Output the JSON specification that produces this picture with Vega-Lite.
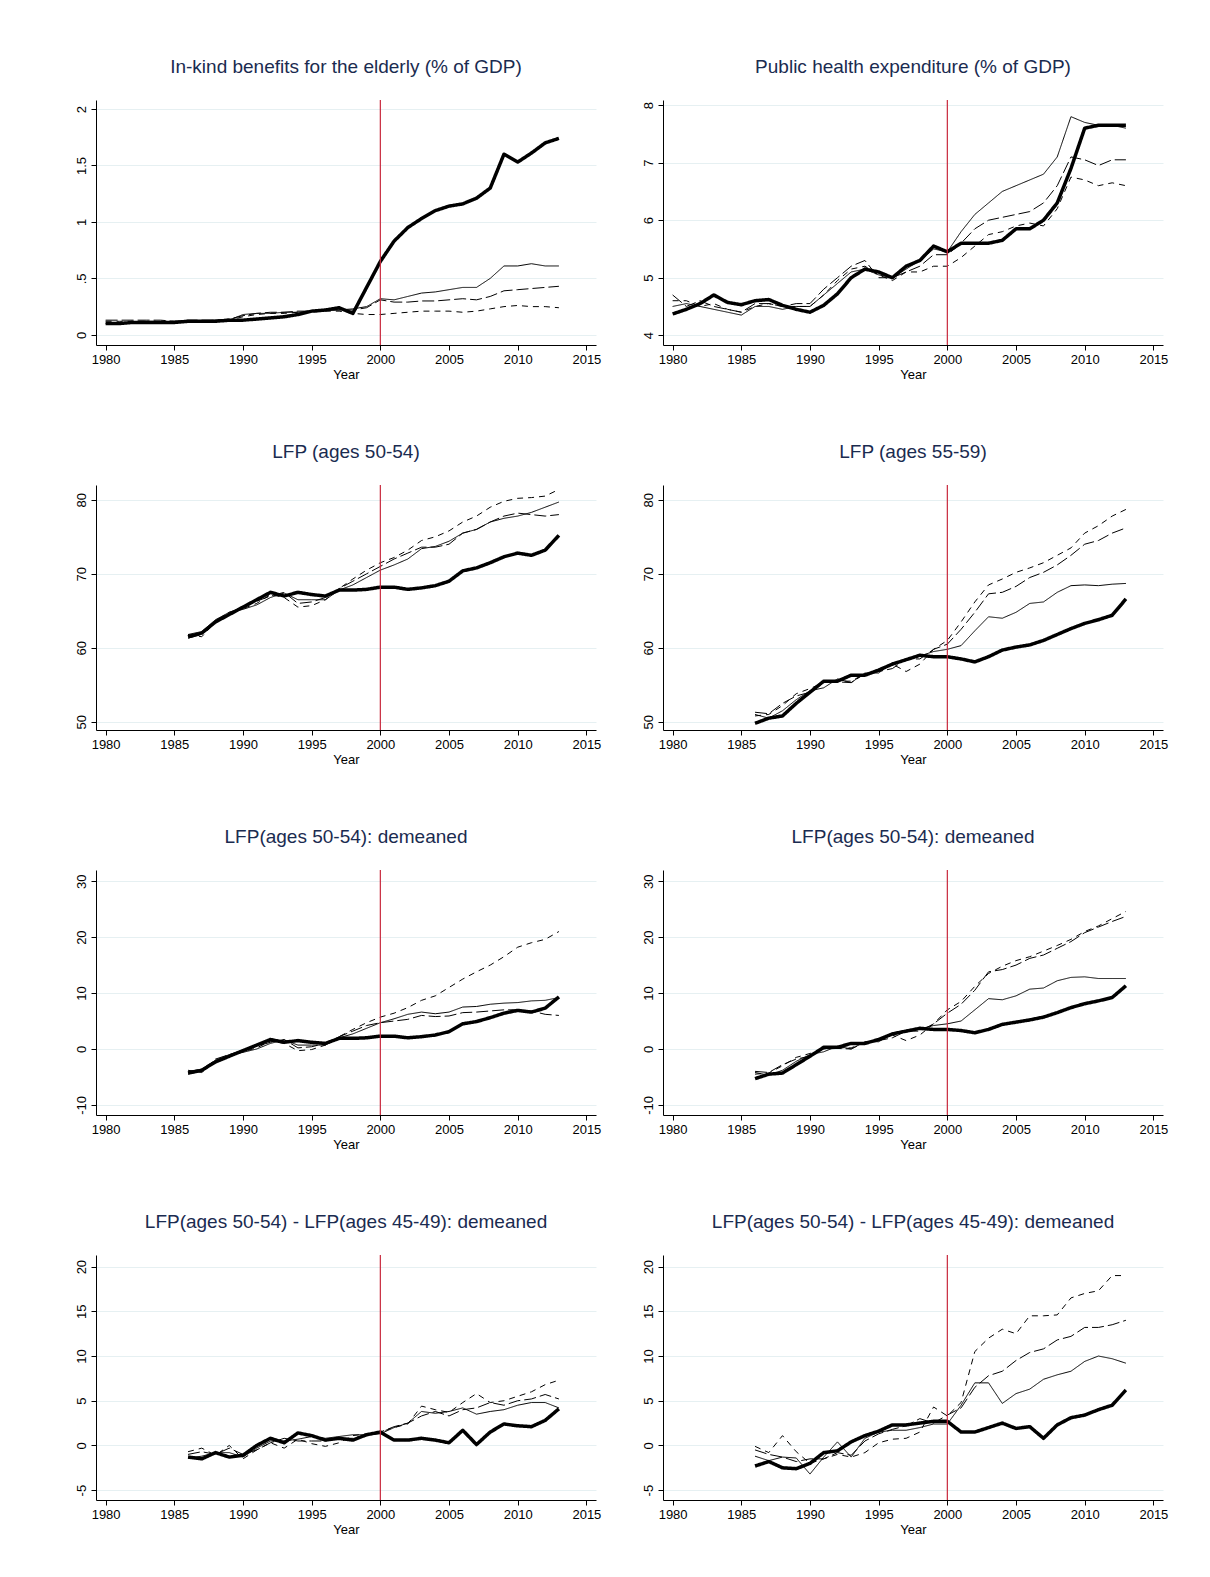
{
"$schema":"https://vega.github.io/schema/vega-lite/v6.json",
"padding":{"left":74,"top":58,"right":10,"bottom":10},
"background":"white",
"config":{"font":"Liberation Sans","view":{"stroke":null},
"title":{"fontSize":19,"fontWeight":"normal","color":"#1a2b50","offset":22},
"axis":{"labelFont":"Liberation Sans","titleFont":"Liberation Sans","labelFontSize":13,"titleFontSize":13,"titleFontWeight":"normal","labelColor":"#000","titleColor":"#000","domainColor":"#000","tickColor":"#000","gridColor":"#e6f0f2","tickSize":5,"labelPadding":3}},
"spacing":{"column":40,"row":62},
"datasets":{"r":[{"x":2000}],
"d":[
{"p":1,"year":1980,"A":0.10,"B":0.10,"C":0.13,"D":0.12},
{"p":1,"year":1981,"A":0.10,"B":0.10,"C":0.13,"D":0.12},
{"p":1,"year":1982,"A":0.11,"B":0.11,"C":0.13,"D":0.12},
{"p":1,"year":1983,"A":0.11,"B":0.11,"C":0.13,"D":0.12},
{"p":1,"year":1984,"A":0.11,"B":0.11,"C":0.13,"D":0.12},
{"p":1,"year":1985,"A":0.11,"B":0.11,"C":0.12,"D":0.12},
{"p":1,"year":1986,"A":0.12,"B":0.12,"C":0.13,"D":0.12},
{"p":1,"year":1987,"A":0.12,"B":0.12,"C":0.13,"D":0.12},
{"p":1,"year":1988,"A":0.12,"B":0.13,"C":0.13,"D":0.13},
{"p":1,"year":1989,"A":0.13,"B":0.13,"C":0.14,"D":0.13},
{"p":1,"year":1990,"A":0.13,"B":0.18,"C":0.17,"D":0.16},
{"p":1,"year":1991,"A":0.14,"B":0.19,"C":0.19,"D":0.18},
{"p":1,"year":1992,"A":0.15,"B":0.19,"C":0.20,"D":0.19},
{"p":1,"year":1993,"A":0.16,"B":0.20,"C":0.20,"D":0.19},
{"p":1,"year":1994,"A":0.18,"B":0.20,"C":0.21,"D":0.20},
{"p":1,"year":1995,"A":0.21,"B":0.21,"C":0.21,"D":0.20},
{"p":1,"year":1996,"A":0.22,"B":0.22,"C":0.22,"D":0.21},
{"p":1,"year":1997,"A":0.24,"B":0.22,"C":0.22,"D":0.21},
{"p":1,"year":1998,"A":0.19,"B":0.23,"C":0.22,"D":0.19},
{"p":1,"year":1999,"A":0.42,"B":0.25,"C":0.24,"D":0.18},
{"p":1,"year":2000,"A":0.65,"B":0.32,"C":0.31,"D":0.18},
{"p":1,"year":2001,"A":0.83,"B":0.31,"C":0.29,"D":0.19},
{"p":1,"year":2002,"A":0.95,"B":0.34,"C":0.29,"D":0.20},
{"p":1,"year":2003,"A":1.03,"B":0.37,"C":0.30,"D":0.21},
{"p":1,"year":2004,"A":1.10,"B":0.38,"C":0.30,"D":0.21},
{"p":1,"year":2005,"A":1.14,"B":0.40,"C":0.31,"D":0.21},
{"p":1,"year":2006,"A":1.16,"B":0.42,"C":0.32,"D":0.20},
{"p":1,"year":2007,"A":1.21,"B":0.42,"C":0.31,"D":0.21},
{"p":1,"year":2008,"A":1.30,"B":0.50,"C":0.34,"D":0.23},
{"p":1,"year":2009,"A":1.60,"B":0.61,"C":0.39,"D":0.25},
{"p":1,"year":2010,"A":1.53,"B":0.61,"C":0.40,"D":0.26},
{"p":1,"year":2011,"A":1.61,"B":0.63,"C":0.41,"D":0.25},
{"p":1,"year":2012,"A":1.70,"B":0.61,"C":0.42,"D":0.25},
{"p":1,"year":2013,"A":1.74,"B":0.61,"C":0.43,"D":0.24},
{"p":2,"year":1980,"A":4.37,"B":4.5,"C":4.7,"D":4.6},
{"p":2,"year":1981,"A":4.45,"B":4.55,"C":4.5,"D":4.6},
{"p":2,"year":1982,"A":4.55,"B":4.5,"C":4.6,"D":4.5},
{"p":2,"year":1983,"A":4.7,"B":4.45,"C":4.5,"D":4.55},
{"p":2,"year":1984,"A":4.57,"B":4.4,"C":4.45,"D":4.45},
{"p":2,"year":1985,"A":4.53,"B":4.35,"C":4.4,"D":4.4},
{"p":2,"year":1986,"A":4.6,"B":4.5,"C":4.55,"D":4.5},
{"p":2,"year":1987,"A":4.62,"B":4.5,"C":4.55,"D":4.55},
{"p":2,"year":1988,"A":4.52,"B":4.45,"C":4.5,"D":4.5},
{"p":2,"year":1989,"A":4.45,"B":4.5,"C":4.55,"D":4.5},
{"p":2,"year":1990,"A":4.4,"B":4.5,"C":4.55,"D":4.5},
{"p":2,"year":1991,"A":4.52,"B":4.7,"C":4.8,"D":4.7},
{"p":2,"year":1992,"A":4.72,"B":4.9,"C":5.0,"D":4.95},
{"p":2,"year":1993,"A":5.0,"B":5.1,"C":5.2,"D":5.15},
{"p":2,"year":1994,"A":5.15,"B":5.15,"C":5.3,"D":5.2},
{"p":2,"year":1995,"A":5.1,"B":5.05,"C":5.0,"D":5.05},
{"p":2,"year":1996,"A":5.0,"B":5.0,"C":5.0,"D":4.95},
{"p":2,"year":1997,"A":5.2,"B":5.15,"C":5.1,"D":5.1},
{"p":2,"year":1998,"A":5.3,"B":5.3,"C":5.2,"D":5.1},
{"p":2,"year":1999,"A":5.55,"B":5.5,"C":5.4,"D":5.2},
{"p":2,"year":2000,"A":5.45,"B":5.45,"C":5.4,"D":5.2},
{"p":2,"year":2001,"A":5.6,"B":5.8,"C":5.6,"D":5.35},
{"p":2,"year":2002,"A":5.6,"B":6.1,"C":5.85,"D":5.55},
{"p":2,"year":2003,"A":5.6,"B":6.3,"C":6.0,"D":5.75},
{"p":2,"year":2004,"A":5.65,"B":6.5,"C":6.05,"D":5.8},
{"p":2,"year":2005,"A":5.85,"B":6.6,"C":6.1,"D":5.9},
{"p":2,"year":2006,"A":5.85,"B":6.7,"C":6.15,"D":5.95},
{"p":2,"year":2007,"A":6.0,"B":6.8,"C":6.3,"D":5.9},
{"p":2,"year":2008,"A":6.3,"B":7.1,"C":6.6,"D":6.2},
{"p":2,"year":2009,"A":6.9,"B":7.8,"C":7.1,"D":6.75},
{"p":2,"year":2010,"A":7.6,"B":7.7,"C":7.05,"D":6.7},
{"p":2,"year":2011,"A":7.65,"B":7.65,"C":6.95,"D":6.6},
{"p":2,"year":2012,"A":7.65,"B":7.65,"C":7.05,"D":6.65},
{"p":2,"year":2013,"A":7.65,"B":7.6,"C":7.05,"D":6.6},
{"p":3,"year":1986,"A":61.5,"B":61.8,"C":61.3,"D":61.8},
{"p":3,"year":1987,"A":62,"B":62.2,"C":61.8,"D":61.5},
{"p":3,"year":1988,"A":63.5,"B":63.8,"C":63.7,"D":63.5},
{"p":3,"year":1989,"A":64.5,"B":64.8,"C":64.8,"D":64.5},
{"p":3,"year":1990,"A":65.5,"B":65.2,"C":65.5,"D":65.3},
{"p":3,"year":1991,"A":66.5,"B":65.8,"C":66.3,"D":66},
{"p":3,"year":1992,"A":67.5,"B":66.8,"C":67,"D":67.2},
{"p":3,"year":1993,"A":67,"B":67.4,"C":67.5,"D":66.8},
{"p":3,"year":1994,"A":67.5,"B":66.5,"C":66,"D":65.5},
{"p":3,"year":1995,"A":67.2,"B":66.5,"C":66.2,"D":65.7},
{"p":3,"year":1996,"A":67,"B":66.5,"C":66.8,"D":66.5},
{"p":3,"year":1997,"A":67.8,"B":67.8,"C":68,"D":68},
{"p":3,"year":1998,"A":67.8,"B":68.5,"C":69,"D":69.3},
{"p":3,"year":1999,"A":67.9,"B":69.5,"C":70,"D":70.5},
{"p":3,"year":2000,"A":68.2,"B":70.5,"C":71,"D":71.5},
{"p":3,"year":2001,"A":68.2,"B":71.2,"C":72,"D":72.2},
{"p":3,"year":2002,"A":67.9,"B":72,"C":72.8,"D":73.2},
{"p":3,"year":2003,"A":68.1,"B":73.4,"C":73.6,"D":74.5},
{"p":3,"year":2004,"A":68.4,"B":73.7,"C":73.6,"D":75},
{"p":3,"year":2005,"A":69,"B":74.4,"C":74,"D":75.8},
{"p":3,"year":2006,"A":70.4,"B":75.5,"C":75.5,"D":77},
{"p":3,"year":2007,"A":70.8,"B":76,"C":76,"D":77.8},
{"p":3,"year":2008,"A":71.5,"B":77,"C":77,"D":79},
{"p":3,"year":2009,"A":72.3,"B":77.5,"C":77.8,"D":79.8},
{"p":3,"year":2010,"A":72.8,"B":77.8,"C":78.2,"D":80.2},
{"p":3,"year":2011,"A":72.5,"B":78.3,"C":78,"D":80.3},
{"p":3,"year":2012,"A":73.2,"B":79,"C":77.8,"D":80.5},
{"p":3,"year":2013,"A":75.2,"B":79.7,"C":78,"D":81.4},
{"p":4,"year":1986,"A":49.8,"B":51,"C":51.3,"D":50.8},
{"p":4,"year":1987,"A":50.5,"B":50.5,"C":51.1,"D":51},
{"p":4,"year":1988,"A":50.8,"B":51.5,"C":52.5,"D":52.2},
{"p":4,"year":1989,"A":52.5,"B":53,"C":53.5,"D":53.8},
{"p":4,"year":1990,"A":54,"B":54.2,"C":54,"D":54.5},
{"p":4,"year":1991,"A":55.5,"B":54.6,"C":55.3,"D":55.3},
{"p":4,"year":1992,"A":55.5,"B":55.8,"C":55.4,"D":55.5},
{"p":4,"year":1993,"A":56.3,"B":55.3,"C":55.3,"D":55.5},
{"p":4,"year":1994,"A":56.3,"B":56.6,"C":56.5,"D":56.5},
{"p":4,"year":1995,"A":57,"B":56.6,"C":56.8,"D":56.8},
{"p":4,"year":1996,"A":57.8,"B":58,"C":57.2,"D":57.8},
{"p":4,"year":1997,"A":58.4,"B":58.3,"C":58.5,"D":56.8},
{"p":4,"year":1998,"A":59,"B":58.9,"C":58.5,"D":57.8},
{"p":4,"year":1999,"A":58.8,"B":59.5,"C":59.8,"D":59.8},
{"p":4,"year":2000,"A":58.8,"B":59.8,"C":60.5,"D":61},
{"p":4,"year":2001,"A":58.5,"B":60.3,"C":62.5,"D":63.5},
{"p":4,"year":2002,"A":58.1,"B":62.3,"C":64.8,"D":66.2},
{"p":4,"year":2003,"A":58.8,"B":64.2,"C":67.3,"D":68.5},
{"p":4,"year":2004,"A":59.7,"B":64,"C":67.5,"D":69.3},
{"p":4,"year":2005,"A":60.1,"B":64.8,"C":68.3,"D":70.2},
{"p":4,"year":2006,"A":60.4,"B":66,"C":69.5,"D":70.8},
{"p":4,"year":2007,"A":61,"B":66.2,"C":70.2,"D":71.5},
{"p":4,"year":2008,"A":61.8,"B":67.5,"C":71.2,"D":72.5},
{"p":4,"year":2009,"A":62.6,"B":68.4,"C":72.5,"D":73.5},
{"p":4,"year":2010,"A":63.3,"B":68.5,"C":74,"D":75.5},
{"p":4,"year":2011,"A":63.8,"B":68.4,"C":74.5,"D":76.5},
{"p":4,"year":2012,"A":64.4,"B":68.6,"C":75.5,"D":77.8},
{"p":4,"year":2013,"A":66.6,"B":68.7,"C":76.2,"D":78.7},
{"p":5,"year":1986,"A":-4.3,"B":-4,"C":-4.5,"D":-3.8},
{"p":5,"year":1987,"A":-3.8,"B":-3.6,"C":-4,"D":-4.2},
{"p":5,"year":1988,"A":-2.3,"B":-2,"C":-1.8,"D":-2.2},
{"p":5,"year":1989,"A":-1.3,"B":-1,"C":-1,"D":-1.3},
{"p":5,"year":1990,"A":-0.3,"B":-0.6,"C":-0.2,"D":-0.5},
{"p":5,"year":1991,"A":0.7,"B":0,"C":0.5,"D":0.2},
{"p":5,"year":1992,"A":1.7,"B":1,"C":1.2,"D":1.4},
{"p":5,"year":1993,"A":1.2,"B":1.6,"C":1.7,"D":1},
{"p":5,"year":1994,"A":1.5,"B":0.7,"C":0.2,"D":-0.3},
{"p":5,"year":1995,"A":1.2,"B":0.7,"C":0.4,"D":-0.1},
{"p":5,"year":1996,"A":1,"B":0.7,"C":1,"D":0.7},
{"p":5,"year":1997,"A":1.9,"B":2,"C":2.2,"D":2.2},
{"p":5,"year":1998,"A":1.9,"B":2.7,"C":3.2,"D":3.5},
{"p":5,"year":1999,"A":2,"B":3.7,"C":4.2,"D":4.7},
{"p":5,"year":2000,"A":2.3,"B":4.7,"C":4.7,"D":5.7},
{"p":5,"year":2001,"A":2.3,"B":5.4,"C":5,"D":6.4},
{"p":5,"year":2002,"A":2,"B":6.2,"C":5.3,"D":7.4},
{"p":5,"year":2003,"A":2.2,"B":6.6,"C":6,"D":8.7},
{"p":5,"year":2004,"A":2.5,"B":6.3,"C":5.8,"D":9.5},
{"p":5,"year":2005,"A":3.1,"B":6.6,"C":5.9,"D":11},
{"p":5,"year":2006,"A":4.5,"B":7.5,"C":6.5,"D":12.5},
{"p":5,"year":2007,"A":4.9,"B":7.6,"C":6.6,"D":13.8},
{"p":5,"year":2008,"A":5.6,"B":8,"C":6.8,"D":15},
{"p":5,"year":2009,"A":6.4,"B":8.2,"C":7,"D":16.5},
{"p":5,"year":2010,"A":6.9,"B":8.3,"C":7,"D":18.2},
{"p":5,"year":2011,"A":6.6,"B":8.6,"C":6.8,"D":19},
{"p":5,"year":2012,"A":7.3,"B":8.7,"C":6.2,"D":19.6},
{"p":5,"year":2013,"A":9.3,"B":9.2,"C":6,"D":21},
{"p":6,"year":1986,"A":-5.3,"B":-4.2,"C":-4,"D":-4.5},
{"p":6,"year":1987,"A":-4.5,"B":-4.7,"C":-4.2,"D":-4.3},
{"p":6,"year":1988,"A":-4.3,"B":-3.8,"C":-2.8,"D":-3},
{"p":6,"year":1989,"A":-2.8,"B":-2.2,"C":-1.8,"D":-1.5},
{"p":6,"year":1990,"A":-1.3,"B":-1,"C":-1.3,"D":-0.8},
{"p":6,"year":1991,"A":0.3,"B":-0.5,"C":0,"D":0},
{"p":6,"year":1992,"A":0.3,"B":0.5,"C":0.1,"D":0.2},
{"p":6,"year":1993,"A":1,"B":0,"C":0,"D":0.2},
{"p":6,"year":1994,"A":1,"B":1.3,"C":1.2,"D":1.2},
{"p":6,"year":1995,"A":1.7,"B":1.3,"C":1.5,"D":1.5},
{"p":6,"year":1996,"A":2.7,"B":2.7,"C":2,"D":2.5},
{"p":6,"year":1997,"A":3.2,"B":3,"C":3.2,"D":1.5},
{"p":6,"year":1998,"A":3.7,"B":3.6,"C":3.2,"D":2.5},
{"p":6,"year":1999,"A":3.5,"B":4.2,"C":4.5,"D":4.5},
{"p":6,"year":2000,"A":3.5,"B":4.5,"C":6.4,"D":7},
{"p":6,"year":2001,"A":3.3,"B":5,"C":8,"D":8.5},
{"p":6,"year":2002,"A":2.9,"B":7,"C":10.5,"D":11.2},
{"p":6,"year":2003,"A":3.5,"B":9,"C":13.8,"D":13.5},
{"p":6,"year":2004,"A":4.4,"B":8.8,"C":14.2,"D":14.8},
{"p":6,"year":2005,"A":4.8,"B":9.5,"C":15,"D":15.8},
{"p":6,"year":2006,"A":5.2,"B":10.7,"C":16.2,"D":16.5},
{"p":6,"year":2007,"A":5.7,"B":10.9,"C":16.8,"D":17.5},
{"p":6,"year":2008,"A":6.5,"B":12.2,"C":18,"D":18.5},
{"p":6,"year":2009,"A":7.4,"B":12.8,"C":19.2,"D":19.6},
{"p":6,"year":2010,"A":8.1,"B":12.9,"C":20.8,"D":21},
{"p":6,"year":2011,"A":8.6,"B":12.6,"C":21.8,"D":22},
{"p":6,"year":2012,"A":9.2,"B":12.6,"C":22.8,"D":23.3},
{"p":6,"year":2013,"A":11.3,"B":12.6,"C":23.7,"D":24.6},
{"p":7,"year":1986,"A":-1.3,"B":-1.4,"C":-1,"D":-0.7},
{"p":7,"year":1987,"A":-1.5,"B":-1.2,"C":-0.7,"D":-0.3},
{"p":7,"year":1988,"A":-0.8,"B":-0.8,"C":-1,"D":-1.1},
{"p":7,"year":1989,"A":-1.3,"B":-0.8,"C":-0.3,"D":0},
{"p":7,"year":1990,"A":-1.1,"B":-1.3,"C":-1,"D":-1.5},
{"p":7,"year":1991,"A":0,"B":-0.3,"C":-0.5,"D":-0.5},
{"p":7,"year":1992,"A":0.8,"B":0.5,"C":0.3,"D":0.3},
{"p":7,"year":1993,"A":0.3,"B":0.5,"C":0.8,"D":-0.3},
{"p":7,"year":1994,"A":1.4,"B":0.7,"C":0.5,"D":0.7},
{"p":7,"year":1995,"A":1.1,"B":1,"C":0.5,"D":0.2},
{"p":7,"year":1996,"A":0.6,"B":0.8,"C":0.5,"D":-0.1},
{"p":7,"year":1997,"A":0.8,"B":1,"C":0.8,"D":0.3},
{"p":7,"year":1998,"A":0.6,"B":1.2,"C":0.8,"D":1.1},
{"p":7,"year":1999,"A":1.2,"B":1.2,"C":1.2,"D":1.3},
{"p":7,"year":2000,"A":1.5,"B":1.3,"C":1.5,"D":1.5},
{"p":7,"year":2001,"A":0.6,"B":2,"C":2.1,"D":2},
{"p":7,"year":2002,"A":0.6,"B":2.5,"C":2.5,"D":2.4},
{"p":7,"year":2003,"A":0.8,"B":3.8,"C":3.3,"D":4.4},
{"p":7,"year":2004,"A":0.6,"B":3.6,"C":3.8,"D":4},
{"p":7,"year":2005,"A":0.3,"B":3.8,"C":3.3,"D":3.7},
{"p":7,"year":2006,"A":1.7,"B":4.2,"C":4,"D":4.8},
{"p":7,"year":2007,"A":0.1,"B":3.5,"C":4.2,"D":5.8},
{"p":7,"year":2008,"A":1.5,"B":3.8,"C":4.8,"D":4.8},
{"p":7,"year":2009,"A":2.4,"B":4,"C":4.5,"D":5},
{"p":7,"year":2010,"A":2.2,"B":4.5,"C":5,"D":5.5},
{"p":7,"year":2011,"A":2.1,"B":4.8,"C":5.2,"D":6},
{"p":7,"year":2012,"A":2.8,"B":4.8,"C":5.7,"D":6.8},
{"p":7,"year":2013,"A":4.1,"B":4.2,"C":5.2,"D":7.3},
{"p":8,"year":1986,"A":-2.3,"B":-1.2,"C":-0.5,"D":-0.1},
{"p":8,"year":1987,"A":-1.8,"B":-1.7,"C":-1,"D":-0.8},
{"p":8,"year":1988,"A":-2.5,"B":-1.3,"C":-1.3,"D":1.1},
{"p":8,"year":1989,"A":-2.6,"B":-1.4,"C":-1.8,"D":-0.7},
{"p":8,"year":1990,"A":-2,"B":-3.2,"C":-1.5,"D":-2},
{"p":8,"year":1991,"A":-0.8,"B":-1.3,"C":-1.5,"D":-1.5},
{"p":8,"year":1992,"A":-0.6,"B":0.4,"C":-0.8,"D":-1},
{"p":8,"year":1993,"A":0.4,"B":-1.3,"C":-1.1,"D":-1.3},
{"p":8,"year":1994,"A":1.1,"B":0.8,"C":0.5,"D":-0.8},
{"p":8,"year":1995,"A":1.6,"B":1.5,"C":1.3,"D":0.3},
{"p":8,"year":1996,"A":2.3,"B":1.7,"C":1.8,"D":0.7},
{"p":8,"year":1997,"A":2.3,"B":1.7,"C":2.2,"D":0.8},
{"p":8,"year":1998,"A":2.5,"B":2,"C":3,"D":1.5},
{"p":8,"year":1999,"A":2.7,"B":2.4,"C":2.5,"D":4.3},
{"p":8,"year":2000,"A":2.7,"B":2.4,"C":3.4,"D":3.3},
{"p":8,"year":2001,"A":1.5,"B":4.5,"C":4.2,"D":4.8},
{"p":8,"year":2002,"A":1.5,"B":7,"C":6.5,"D":10.5},
{"p":8,"year":2003,"A":2,"B":7,"C":7.8,"D":12},
{"p":8,"year":2004,"A":2.5,"B":4.7,"C":8.3,"D":13},
{"p":8,"year":2005,"A":1.9,"B":5.8,"C":9.5,"D":12.5},
{"p":8,"year":2006,"A":2.1,"B":6.3,"C":10.4,"D":14.5},
{"p":8,"year":2007,"A":0.8,"B":7.4,"C":10.8,"D":14.5},
{"p":8,"year":2008,"A":2.3,"B":7.9,"C":11.8,"D":14.6},
{"p":8,"year":2009,"A":3.1,"B":8.3,"C":12.2,"D":16.5},
{"p":8,"year":2010,"A":3.4,"B":9.4,"C":13.2,"D":17},
{"p":8,"year":2011,"A":4,"B":10,"C":13.2,"D":17.3},
{"p":8,"year":2012,"A":4.5,"B":9.7,"C":13.5,"D":19},
{"p":8,"year":2013,"A":6.2,"B":9.2,"C":14,"D":19}
]},
"columns":2,
"concat":[
{"title":"In-kind benefits for the elderly (% of GDP)","width":500,"height":245,"layer":[
{"data":{"name":"d"},"transform":[{"filter":"datum.p==1"},{"fold":["A","B","C","D"],"as":["s","v"]}],"mark":{"type":"line","color":"#000","strokeJoin":"round"},
"encoding":{"x":{"field":"year","type":"quantitative","scale":{"domain":[1979.3,2015.7],"nice":false,"zero":false},"axis":{"values":[1980,1985,1990,1995,2000,2005,2010,2015],"format":"d","grid":false,"title":"Year","titlePadding":2}},
"y":{"field":"v","type":"quantitative","scale":{"domain":[-0.09,2.08],"nice":false,"zero":false},"axis":{"values":[0,0.5,1,1.5,2],"labelExpr":"replace(replace(format(datum.value,'~g'),'−','-'),'0.','.')","labelAngle":-90,"labelAlign":"center","labelBaseline":"bottom","title":null}},
"detail":{"field":"s"},
"strokeWidth":{"field":"s","type":"nominal","scale":{"type":"ordinal","domain":["A","B","C","D"],"range":[3.5,1,1,1]},"legend":null},
"strokeDash":{"field":"s","type":"nominal","scale":{"domain":["A","B","C","D"],"range":[[1,0],[1,0],[12,4],[6,5]]},"legend":null}}},
{"data":{"name":"r"},"mark":{"type":"rule","color":"#c8283c","strokeWidth":1.2},"encoding":{"x":{"field":"x","type":"quantitative"}}}]},
{"title":"Public health expenditure (% of GDP)","width":500,"height":245,"layer":[
{"data":{"name":"d"},"transform":[{"filter":"datum.p==2"},{"fold":["A","B","C","D"],"as":["s","v"]}],"mark":{"type":"line","color":"#000","strokeJoin":"round"},
"encoding":{"x":{"field":"year","type":"quantitative","scale":{"domain":[1979.3,2015.7],"nice":false,"zero":false},"axis":{"values":[1980,1985,1990,1995,2000,2005,2010,2015],"format":"d","grid":false,"title":"Year","titlePadding":2}},
"y":{"field":"v","type":"quantitative","scale":{"domain":[3.83,8.09],"nice":false,"zero":false},"axis":{"values":[4,5,6,7,8],"labelExpr":"replace(replace(format(datum.value,'~g'),'−','-'),'0.','.')","labelAngle":-90,"labelAlign":"center","labelBaseline":"bottom","title":null}},
"detail":{"field":"s"},
"strokeWidth":{"field":"s","type":"nominal","scale":{"type":"ordinal","domain":["A","B","C","D"],"range":[3.5,1,1,1]},"legend":null},
"strokeDash":{"field":"s","type":"nominal","scale":{"domain":["A","B","C","D"],"range":[[1,0],[1,0],[12,4],[6,5]]},"legend":null}}},
{"data":{"name":"r"},"mark":{"type":"rule","color":"#c8283c","strokeWidth":1.2},"encoding":{"x":{"field":"x","type":"quantitative"}}}]},
{"title":"LFP (ages 50-54)","width":500,"height":245,"layer":[
{"data":{"name":"d"},"transform":[{"filter":"datum.p==3"},{"fold":["A","B","C","D"],"as":["s","v"]}],"mark":{"type":"line","color":"#000","strokeJoin":"round"},
"encoding":{"x":{"field":"year","type":"quantitative","scale":{"domain":[1979.3,2015.7],"nice":false,"zero":false},"axis":{"values":[1980,1985,1990,1995,2000,2005,2010,2015],"format":"d","grid":false,"title":"Year","titlePadding":2}},
"y":{"field":"v","type":"quantitative","scale":{"domain":[48.9,82],"nice":false,"zero":false},"axis":{"values":[50,60,70,80],"labelExpr":"replace(replace(format(datum.value,'~g'),'−','-'),'0.','.')","labelAngle":-90,"labelAlign":"center","labelBaseline":"bottom","title":null}},
"detail":{"field":"s"},
"strokeWidth":{"field":"s","type":"nominal","scale":{"type":"ordinal","domain":["A","B","C","D"],"range":[3.5,1,1,1]},"legend":null},
"strokeDash":{"field":"s","type":"nominal","scale":{"domain":["A","B","C","D"],"range":[[1,0],[1,0],[12,4],[6,5]]},"legend":null}}},
{"data":{"name":"r"},"mark":{"type":"rule","color":"#c8283c","strokeWidth":1.2},"encoding":{"x":{"field":"x","type":"quantitative"}}}]},
{"title":"LFP (ages 55-59)","width":500,"height":245,"layer":[
{"data":{"name":"d"},"transform":[{"filter":"datum.p==4"},{"fold":["A","B","C","D"],"as":["s","v"]}],"mark":{"type":"line","color":"#000","strokeJoin":"round"},
"encoding":{"x":{"field":"year","type":"quantitative","scale":{"domain":[1979.3,2015.7],"nice":false,"zero":false},"axis":{"values":[1980,1985,1990,1995,2000,2005,2010,2015],"format":"d","grid":false,"title":"Year","titlePadding":2}},
"y":{"field":"v","type":"quantitative","scale":{"domain":[48.9,82],"nice":false,"zero":false},"axis":{"values":[50,60,70,80],"labelExpr":"replace(replace(format(datum.value,'~g'),'−','-'),'0.','.')","labelAngle":-90,"labelAlign":"center","labelBaseline":"bottom","title":null}},
"detail":{"field":"s"},
"strokeWidth":{"field":"s","type":"nominal","scale":{"type":"ordinal","domain":["A","B","C","D"],"range":[3.5,1,1,1]},"legend":null},
"strokeDash":{"field":"s","type":"nominal","scale":{"domain":["A","B","C","D"],"range":[[1,0],[1,0],[12,4],[6,5]]},"legend":null}}},
{"data":{"name":"r"},"mark":{"type":"rule","color":"#c8283c","strokeWidth":1.2},"encoding":{"x":{"field":"x","type":"quantitative"}}}]},
{"title":"LFP(ages 50-54): demeaned","width":500,"height":245,"layer":[
{"data":{"name":"d"},"transform":[{"filter":"datum.p==5"},{"fold":["A","B","C","D"],"as":["s","v"]}],"mark":{"type":"line","color":"#000","strokeJoin":"round"},
"encoding":{"x":{"field":"year","type":"quantitative","scale":{"domain":[1979.3,2015.7],"nice":false,"zero":false},"axis":{"values":[1980,1985,1990,1995,2000,2005,2010,2015],"format":"d","grid":false,"title":"Year","titlePadding":2}},
"y":{"field":"v","type":"quantitative","scale":{"domain":[-11.8,32],"nice":false,"zero":false},"axis":{"values":[-10,0,10,20,30],"labelExpr":"replace(replace(format(datum.value,'~g'),'−','-'),'0.','.')","labelAngle":-90,"labelAlign":"center","labelBaseline":"bottom","title":null}},
"detail":{"field":"s"},
"strokeWidth":{"field":"s","type":"nominal","scale":{"type":"ordinal","domain":["A","B","C","D"],"range":[3.5,1,1,1]},"legend":null},
"strokeDash":{"field":"s","type":"nominal","scale":{"domain":["A","B","C","D"],"range":[[1,0],[1,0],[12,4],[6,5]]},"legend":null}}},
{"data":{"name":"r"},"mark":{"type":"rule","color":"#c8283c","strokeWidth":1.2},"encoding":{"x":{"field":"x","type":"quantitative"}}}]},
{"title":"LFP(ages 50-54): demeaned","width":500,"height":245,"layer":[
{"data":{"name":"d"},"transform":[{"filter":"datum.p==6"},{"fold":["A","B","C","D"],"as":["s","v"]}],"mark":{"type":"line","color":"#000","strokeJoin":"round"},
"encoding":{"x":{"field":"year","type":"quantitative","scale":{"domain":[1979.3,2015.7],"nice":false,"zero":false},"axis":{"values":[1980,1985,1990,1995,2000,2005,2010,2015],"format":"d","grid":false,"title":"Year","titlePadding":2}},
"y":{"field":"v","type":"quantitative","scale":{"domain":[-11.8,32],"nice":false,"zero":false},"axis":{"values":[-10,0,10,20,30],"labelExpr":"replace(replace(format(datum.value,'~g'),'−','-'),'0.','.')","labelAngle":-90,"labelAlign":"center","labelBaseline":"bottom","title":null}},
"detail":{"field":"s"},
"strokeWidth":{"field":"s","type":"nominal","scale":{"type":"ordinal","domain":["A","B","C","D"],"range":[3.5,1,1,1]},"legend":null},
"strokeDash":{"field":"s","type":"nominal","scale":{"domain":["A","B","C","D"],"range":[[1,0],[1,0],[12,4],[6,5]]},"legend":null}}},
{"data":{"name":"r"},"mark":{"type":"rule","color":"#c8283c","strokeWidth":1.2},"encoding":{"x":{"field":"x","type":"quantitative"}}}]},
{"title":"LFP(ages 50-54) - LFP(ages 45-49): demeaned","width":500,"height":245,"layer":[
{"data":{"name":"d"},"transform":[{"filter":"datum.p==7"},{"fold":["A","B","C","D"],"as":["s","v"]}],"mark":{"type":"line","color":"#000","strokeJoin":"round"},
"encoding":{"x":{"field":"year","type":"quantitative","scale":{"domain":[1979.3,2015.7],"nice":false,"zero":false},"axis":{"values":[1980,1985,1990,1995,2000,2005,2010,2015],"format":"d","grid":false,"title":"Year","titlePadding":2}},
"y":{"field":"v","type":"quantitative","scale":{"domain":[-6.1,21.3],"nice":false,"zero":false},"axis":{"values":[-5,0,5,10,15,20],"labelExpr":"replace(replace(format(datum.value,'~g'),'−','-'),'0.','.')","labelAngle":-90,"labelAlign":"center","labelBaseline":"bottom","title":null}},
"detail":{"field":"s"},
"strokeWidth":{"field":"s","type":"nominal","scale":{"type":"ordinal","domain":["A","B","C","D"],"range":[3.5,1,1,1]},"legend":null},
"strokeDash":{"field":"s","type":"nominal","scale":{"domain":["A","B","C","D"],"range":[[1,0],[1,0],[12,4],[6,5]]},"legend":null}}},
{"data":{"name":"r"},"mark":{"type":"rule","color":"#c8283c","strokeWidth":1.2},"encoding":{"x":{"field":"x","type":"quantitative"}}}]},
{"title":"LFP(ages 50-54) - LFP(ages 45-49): demeaned","width":500,"height":245,"layer":[
{"data":{"name":"d"},"transform":[{"filter":"datum.p==8"},{"fold":["A","B","C","D"],"as":["s","v"]}],"mark":{"type":"line","color":"#000","strokeJoin":"round"},
"encoding":{"x":{"field":"year","type":"quantitative","scale":{"domain":[1979.3,2015.7],"nice":false,"zero":false},"axis":{"values":[1980,1985,1990,1995,2000,2005,2010,2015],"format":"d","grid":false,"title":"Year","titlePadding":2}},
"y":{"field":"v","type":"quantitative","scale":{"domain":[-6.1,21.3],"nice":false,"zero":false},"axis":{"values":[-5,0,5,10,15,20],"labelExpr":"replace(replace(format(datum.value,'~g'),'−','-'),'0.','.')","labelAngle":-90,"labelAlign":"center","labelBaseline":"bottom","title":null}},
"detail":{"field":"s"},
"strokeWidth":{"field":"s","type":"nominal","scale":{"type":"ordinal","domain":["A","B","C","D"],"range":[3.5,1,1,1]},"legend":null},
"strokeDash":{"field":"s","type":"nominal","scale":{"domain":["A","B","C","D"],"range":[[1,0],[1,0],[12,4],[6,5]]},"legend":null}}},
{"data":{"name":"r"},"mark":{"type":"rule","color":"#c8283c","strokeWidth":1.2},"encoding":{"x":{"field":"x","type":"quantitative"}}}]}
]
}
